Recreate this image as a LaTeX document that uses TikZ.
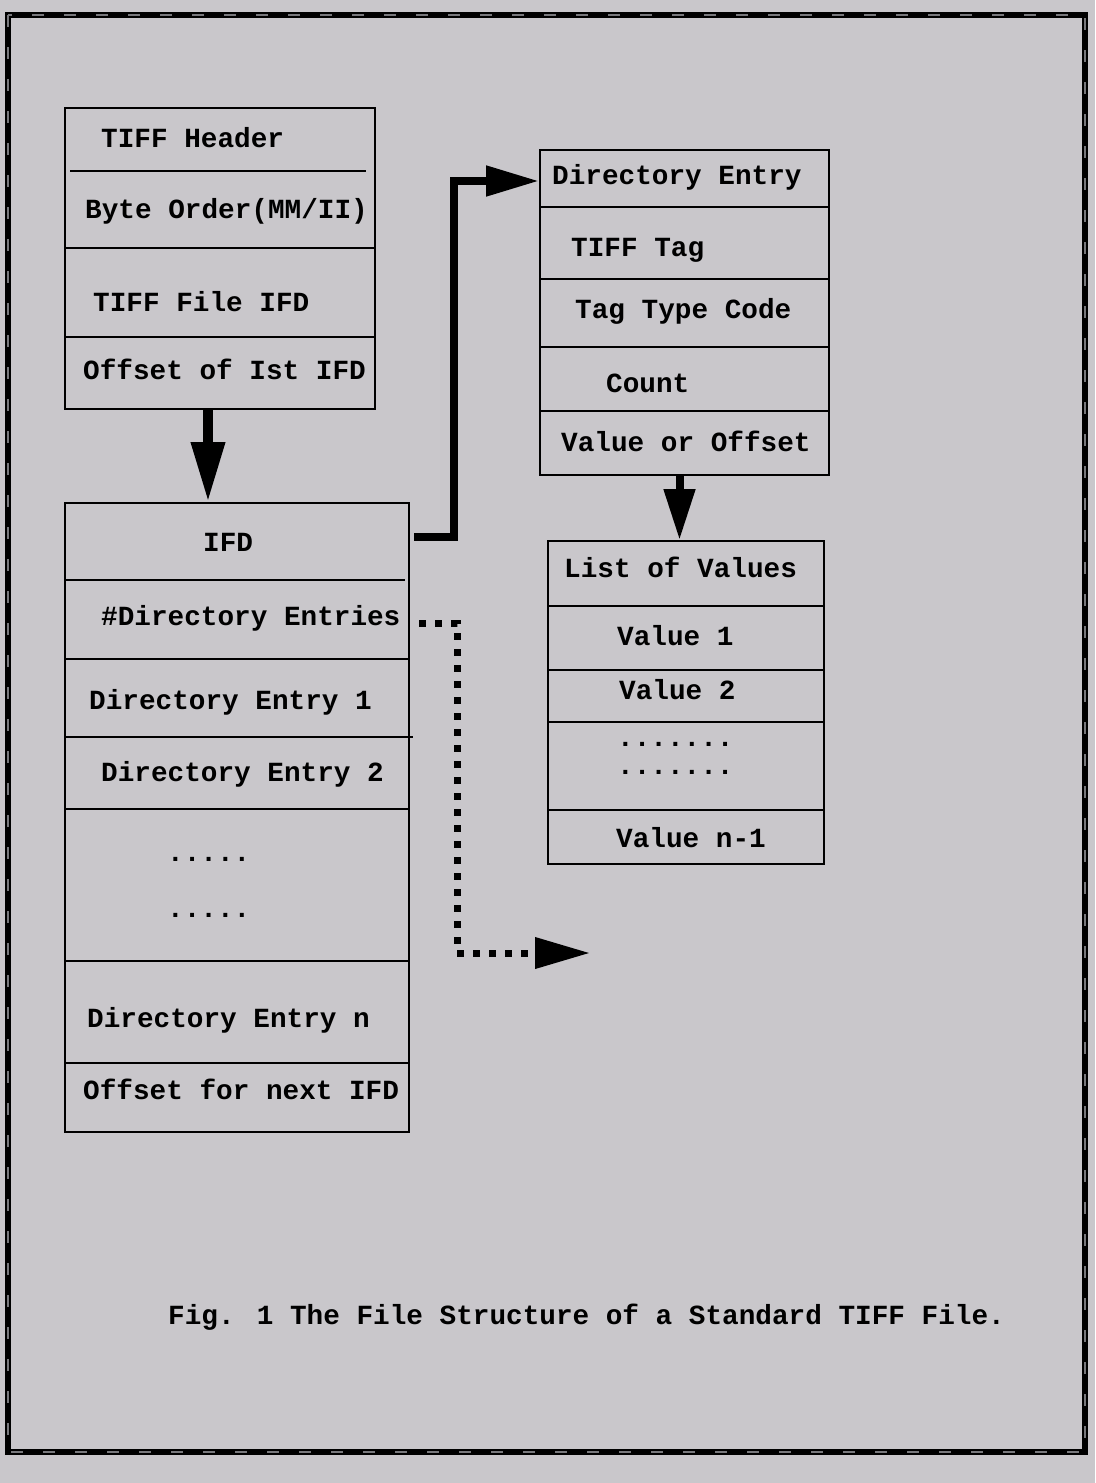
\documentclass[tikz,border=0pt]{standalone}
\usepackage{fontspec}
\newfontfamily\tiffmono{Liberation Mono}
\usetikzlibrary{arrows.meta,calc}
\definecolor{bgc}{RGB}{201,199,203}
\definecolor{dashc}{RGB}{120,120,124}
\begin{document}
\begin{tikzpicture}[x=1pt,y=-1pt,
  box/.style={draw=black,line width=2pt,anchor=north west,inner sep=0pt},
  lbl/.style={anchor=base west,inner sep=0pt,font=\tiffmono\bfseries\fontsize{27.7}{30}\selectfont},
  rowline/.style={line width=2pt},
  bigarrow/.style={line width=10pt,-{Triangle[length=60pt,width=32pt]}},
  elbowarrow/.style={line width=8pt,-{Triangle[length=53pt,width=29pt]}},
  smallarrow/.style={line width=8pt,-{Triangle[length=51pt,width=30pt]}},
  dotarrow/.style={line width=7pt,dash pattern=on 7pt off 9pt,-{Triangle[length=55pt,width=30pt]}}
]
\useasboundingbox (0,0) rectangle (1095,1483);
\fill[bgc] (0,0) rectangle (1095,1483);
% outer frame
\draw[line width=6pt] (8,15) rectangle (1085,1452);
\draw[dashc,line width=1.5pt,dash pattern=on 12pt off 20pt] (8,15) rectangle (1085,1452);

% TIFF header box
\node[box,minimum width=310pt,minimum height=301pt] (hdr) at (64,107) {};
\draw[rowline] (70,171) -- (366,171);
\draw[rowline] (64,248) -- (374,248);
\draw[rowline] (64,337) -- (374,337);
\node[lbl] (h1) at (101,147) {TIFF Header};
\node[lbl] (h2) at (85,218) {Byte Order(MM/II)};
\node[lbl] (h3) at (93,311) {TIFF File IFD};
\node[lbl] (h4) at (83,379) {Offset of Ist IFD};

% IFD box
\node[box,minimum width=344pt,minimum height=629pt] (ifd) at (64,502) {};
\draw[rowline] (64,580) -- (405,580);
\draw[rowline] (64,659) -- (410,659);
\draw[rowline] (64,737) -- (413,737);
\draw[rowline] (64,809) -- (408,809);
\draw[rowline] (64,961) -- (408,961);
\draw[rowline] (64,1063) -- (408,1063);
\node[lbl] (i1) at (203,551) {IFD};
\node[lbl] (i2) at (101,625) {\#Directory Entries};
\node[lbl] (i3) at (89,709) {Directory Entry 1};
\node[lbl] (i4) at (101,781) {Directory Entry 2};
\node[lbl] (i5) at (167,861) {.....};
\node[lbl] (i6) at (167,917) {.....};
\node[lbl] (i7) at (87,1027) {Directory Entry n};
\node[lbl] (i8) at (83,1099) {Offset for next IFD};

% Directory entry box
\node[box,minimum width=289pt,minimum height=325pt] (de) at (539,149) {};
\draw[rowline] (539,207) -- (828,207);
\draw[rowline] (539,279) -- (828,279);
\draw[rowline] (539,347) -- (828,347);
\draw[rowline] (539,411) -- (828,411);
\node[lbl] (d1) at (552,184) {Directory Entry};
\node[lbl] (d2) at (571,256) {TIFF Tag};
\node[lbl] (d3) at (575,318) {Tag Type Code};
\node[lbl] (d4) at (606,392) {Count};
\node[lbl] (d5) at (561,451) {Value or Offset};

% List of values box
\node[box,minimum width=276pt,minimum height=323pt] (lov) at (547,540) {};
\draw[rowline] (547,606) -- (825,606);
\draw[rowline] (547,670) -- (823,670);
\draw[rowline] (547,722) -- (825,722);
\draw[rowline] (547,810) -- (823,810);
\node[lbl] (l1) at (564,577) {List of Values};
\node[lbl] (l2) at (617,645) {Value 1};
\node[lbl] (l3) at (619,699) {Value 2};
\node[lbl] (l4) at (617,746) {.......};
\node[lbl] (l5) at (617,774) {.......};
\node[lbl] (l6) at (616,847) {Value n-1};

% connectors
\draw[bigarrow] ([xshift=-12pt]hdr.south) -- ([xshift=-12pt]hdr.south |- ifd.north);
\draw[elbowarrow] ([shift={(4pt,-35pt)}]ifd.north east) -- ++(40pt,0pt) |- ([yshift=-32pt]de.north west);
\draw[smallarrow] ([xshift=-5pt]de.south) -- ([xshift=-5pt]de.south |- lov.north);
\coordinate (dotend) at (590,953);
\draw[dotarrow] ([shift={(9pt,-121pt)}]ifd.north east) -- ++(38pt,0pt) |- (dotend);

% caption
\node[lbl] (cap) at (168,1324) {Fig. 1 The File Structure of a Standard TIFF File.};
\end{tikzpicture}
\end{document}
